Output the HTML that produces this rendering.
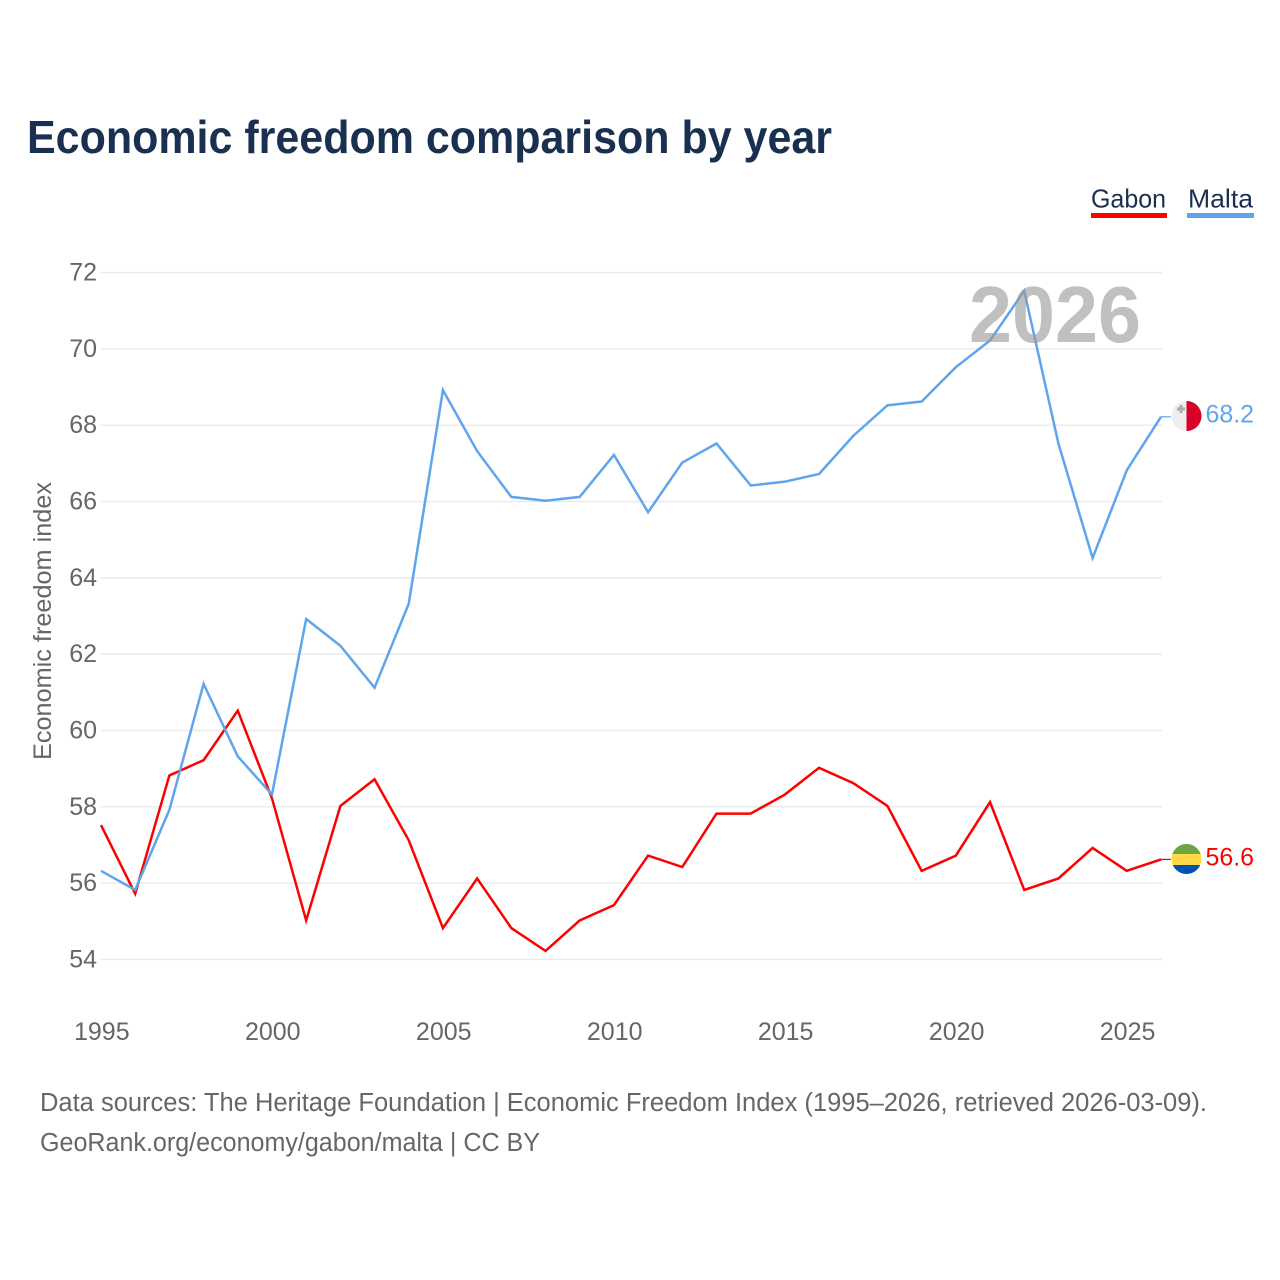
<!DOCTYPE html>
<html lang="en">
<head>
<meta charset="utf-8">
<title>Economic freedom comparison by year</title>
<style>
html,body{margin:0;padding:0;background:#fff;}
svg{display:block;font-family:"Liberation Sans",sans-serif;}
</style>
</head>
<body>
<svg id="chart" width="1280" height="1280" viewBox="0 0 1280 1280" xmlns="http://www.w3.org/2000/svg">
<rect x="0" y="0" width="1280" height="1280" fill="#fff"/>
<text x="27" y="153" font-size="46" font-weight="700" fill="#1a3050" textLength="805" lengthAdjust="spacingAndGlyphs">Economic freedom comparison by year</text>
<g>
<g>
<text x="1091" y="207.5" font-size="26" fill="#1a3050" textLength="75" lengthAdjust="spacingAndGlyphs">Gabon</text>
<rect x="1091" y="213" width="76" height="5" fill="#ff0000"/>
</g>
<g>
<text x="1188" y="207.5" font-size="26" fill="#1a3050" textLength="65" lengthAdjust="spacingAndGlyphs">Malta</text>
<rect x="1187" y="213" width="67" height="5" fill="#5fa5ee"/>
</g>
</g>
<g id="grid"></g>
<g id="yticks"></g>
<g id="xticks"></g>
<text transform="translate(51,760) rotate(-90)" x="0" y="0" font-size="25" fill="#666" textLength="278" lengthAdjust="spacingAndGlyphs">Economic freedom index</text>
<g id="series" transform="translate(0,-0.8)"></g>
<text x="969" y="342" font-size="80" font-weight="700" fill="#999" fill-opacity="0.62" textLength="172" lengthAdjust="spacingAndGlyphs">2026</text>
<g>
<clipPath id="clip-mt"><circle cx="1186.5" cy="416" r="15"/></clipPath>
<g clip-path="url(#clip-mt)">
<rect x="1171" y="401" width="15.5" height="30" fill="#eeeeee"/>
<rect x="1186.5" y="401" width="15.5" height="30" fill="#d80027"/>
<path d="M1179.5 405h3v2.5h2.5v3h-2.5v2.5h-3v-2.5h-2.5v-3h2.5z" fill="#acabb1"/>
</g>
</g>
<text id="value-malta" x="1205.5" y="422.5" font-size="25" fill="#5fa5ee" textLength="48.5" lengthAdjust="spacingAndGlyphs">68.2</text>
<g>
<clipPath id="clip-ga"><circle cx="1186.5" cy="859" r="15"/></clipPath>
<g clip-path="url(#clip-ga)">
<rect x="1171" y="844" width="31" height="10" fill="#6da544"/>
<rect x="1171" y="854" width="31" height="11" fill="#ffda44"/>
<rect x="1171" y="865" width="31" height="10" fill="#0052b4"/>
</g>
</g>
<text id="value-gabon" x="1205.5" y="865.5" font-size="25" fill="#ff0000" textLength="48.5" lengthAdjust="spacingAndGlyphs">56.6</text>
<g>
<text x="40" y="1111" font-size="25.5" fill="#666" textLength="1167" lengthAdjust="spacingAndGlyphs">Data sources: The Heritage Foundation | Economic Freedom Index (1995–2026, retrieved 2026-03-09).</text>
<text x="40" y="1151" font-size="25.5" fill="#666" textLength="500" lengthAdjust="spacingAndGlyphs">GeoRank.org/economy/gabon/malta | CC BY</text>
</g>
</svg>
<script>
const years = [1995,1996,1997,1998,1999,2000,2001,2002,2003,2004,2005,2006,2007,2008,2009,2010,2011,2012,2013,2014,2015,2016,2017,2018,2019,2020,2021,2022,2023,2024,2025,2026];
const gabonValues = [57.5,55.7,58.8,59.2,60.5,58.2,55.0,58.0,58.7,57.1,54.8,56.1,54.8,54.2,55.0,55.4,56.7,56.4,57.8,57.8,58.3,59.0,58.6,58.0,56.3,56.7,58.1,55.8,56.1,56.9,56.3,56.6];
const maltaValues = [56.3,55.8,57.9,61.2,59.3,58.3,62.9,62.2,61.1,63.3,68.9,67.3,66.1,66.0,66.1,67.2,65.7,67.0,67.5,66.4,66.5,66.7,67.7,68.5,68.6,69.5,70.2,71.5,67.5,64.5,66.8,68.2];
const yTickValues = [54,56,58,60,62,64,66,68,70,72];
const xTickValues = [1995,2000,2005,2010,2015,2020,2025];

const SVGNS = 'http://www.w3.org/2000/svg';
const xScale = function (yr) { return 101 + (yr - 1995) * (1161 - 101) / (2026 - 1995); };
const yScale = function (v) { return 959.4 - (v - 54) * (959.4 - 272.6) / (72 - 54); };
function mk(tag, parent) {
  const el = document.createElementNS(SVGNS, tag);
  parent.appendChild(el);
  return el;
}
const grid = document.getElementById('grid');
const yticks = document.getElementById('yticks');
const xticks = document.getElementById('xticks');
const series = document.getElementById('series');

yTickValues.forEach(function (v) {
  const line = mk('line', grid);
  
  
  line.setAttribute('x1', 101);
  line.setAttribute('x2', 1162);
  line.setAttribute('y1', yScale(v));
  line.setAttribute('y2', yScale(v));
  line.setAttribute('stroke', '#ebebeb');
  line.setAttribute('stroke-width', 1.5);
  const t = mk('text', yticks);
  
  
  t.setAttribute('x', 97);
  t.setAttribute('y', yScale(v) + 8);
  t.setAttribute('text-anchor', 'end');
  t.setAttribute('font-size', 25);
  t.setAttribute('fill', '#666');
  t.textContent = String(v);
});

xTickValues.forEach(function (yr) {
  const t = mk('text', xticks);
  
  
  t.setAttribute('x', xScale(yr) + 0.8);
  t.setAttribute('y', 1040);
  t.setAttribute('text-anchor', 'middle');
  t.setAttribute('font-size', 25);
  t.setAttribute('fill', '#666');
  t.textContent = String(yr);
});

function drawSeries(name, values, color) {
  const pts = values.map(function (v, i) { return xScale(years[i]).toFixed(2) + ',' + yScale(v).toFixed(2); });
  const last = values[values.length - 1];
  const endY = yScale(last).toFixed(2);
  const conn = mk('line', series);
  
  
  conn.setAttribute('x1', xScale(years[years.length - 1]));
  conn.setAttribute('x2', 1171);
  conn.setAttribute('y1', endY);
  conn.setAttribute('y2', endY);
  conn.setAttribute('stroke', color);
  conn.setAttribute('stroke-width', 1.2);
  const p = mk('polyline', series);
  
  
  p.setAttribute('points', pts.join(' '));
  p.setAttribute('fill', 'none');
  p.setAttribute('stroke', color);
  p.setAttribute('stroke-width', 2.5);
  p.setAttribute('stroke-linejoin', 'miter');
}
drawSeries('gabon', gabonValues, '#ff0000');
drawSeries('malta', maltaValues, '#5fa5ee');
</script>
</body>
</html>
